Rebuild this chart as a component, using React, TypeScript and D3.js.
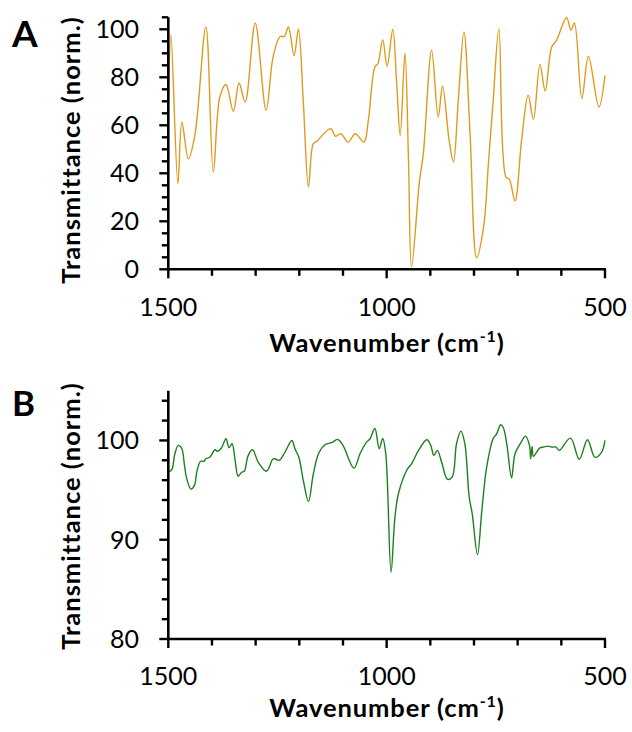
import React from "react";
import * as d3 from "d3";

const width = 632;
const height = 732;

// panel A: FTIR transmittance
const wavenumbersA = [
  1500, 1494, 1478, 1469, 1454, 1439, 1414, 1397, 1382, 1368, 1351, 1338, 1324,
  1301, 1276, 1260, 1244, 1234, 1225, 1212, 1202, 1191, 1179, 1168, 1160, 1146,
  1128, 1117, 1105, 1088, 1072, 1052, 1042, 1027, 1020, 1009, 999, 986, 977, 969,
  958, 950, 943, 925, 916, 897, 882, 872, 857, 847, 836, 823, 809, 794, 778, 767,
  756, 743, 727, 719, 706, 691, 676, 664, 649, 637, 622, 611, 588, 578, 570, 553,
  538, 514, 500
];
const transmittanceA = [
  66, 97.8, 35.7, 61.4, 46, 56, 101, 40.5, 71.8, 77, 65.8, 77.6, 69.7, 102.6,
  66.3, 88.5, 97, 97, 101, 89, 100, 70.4, 34.3, 52.4, 53.3, 56.1, 58.6, 55.4,
  56.5, 53, 56.5, 53, 62, 84.3, 85.7, 95.7, 84.6, 99.9, 77.4, 55.8, 90.1, 45.5,
  1, 36.4, 48.2, 91.3, 63.5, 76.3, 53.8, 44.7, 70.4, 98.9, 56.5, 4.9, 17.7, 44,
  70.5, 100.3, 38.5, 37.5, 28.5, 53.8, 72.5, 62.5, 85.4, 74.3, 92.6, 95.4, 104.9,
  99.6, 102.6, 71.1, 88.8, 67.6, 80.8
];

// panel B
const wavenumbersB = [
  1500, 1492, 1485, 1477, 1469, 1463, 1458, 1448, 1440, 1434, 1426, 1418, 1414,
  1405, 1393, 1388, 1378, 1368, 1361, 1354, 1347, 1340, 1332, 1326, 1317, 1307,
  1294, 1275, 1261, 1256, 1246, 1233, 1217, 1210, 1201, 1191, 1179, 1168, 1156,
  1141, 1126, 1112, 1100, 1075, 1061, 1046, 1038, 1027, 1017, 1009, 1002, 990,
  981, 973, 954, 943, 927, 908, 899, 892, 884, 874, 861, 850, 840, 830, 821, 811,
  804, 792, 782, 771, 756, 748, 739, 733, 725, 714, 706, 694, 682, 673, 670, 667,
  664, 649, 641, 630, 622, 612, 605, 579, 559, 540, 523, 508, 500
];
const transmittanceB = [
  96.8, 97.05, 98.66, 99.5, 99.16, 97.5, 96.2, 95.1, 95.5, 97, 97.9, 97.9, 98.15,
  98.3, 99.06, 98.9, 99.26, 100.17, 99.26, 99.67, 98, 96.4, 96.8, 96.9, 98.5,
  99.06, 97.8, 96.9, 98.1, 98.15, 98, 98.8, 100, 99.16, 98.3, 96, 93.85, 96.6,
  98.66, 99.57, 99.77, 100.1, 99.5, 97.2, 98.66, 99.83, 100.17, 101.2, 99.16,
  100.2, 98.66, 86.73, 92.27, 94.63, 97, 97.65, 99, 100.07, 99.5, 98.5, 99, 97.8,
  96.1, 96.3, 99.67, 100.94, 99.67, 94.3, 92.6, 88.5, 92.95, 97.3, 100.2, 100.67,
  101.58, 101.3, 99.67, 96.24, 98.66, 99.67, 100.43, 99.5, 98.15, 99.4, 98.4,
  99.26, 99.33, 99.43, 99.33, 99.33, 99, 100.23, 98.1, 100.07, 98.3, 98.8, 100
];

const xTickLabels = [1500, 1000, 500];
const yTickLabelsA = [0, 20, 40, 60, 80, 100];
const yTickLabelsB = [80, 90, 100];

const font = "Lato, 'Open Sans', sans-serif";
const x = d3.scaleLinear().domain([1500, 500]).range([168.3, 605]);

function Panel({ letter, letterY, letterSize, wn, vals, color, yDomain, yRange,
  minorStep, labels, titleY, tickLabelDy, xTitleDy }) {
  const y = d3.scaleLinear().domain(yDomain).range(yRange);
  const x0 = x.range()[0];
  const yBottom = yRange[0];
  const line = d3
    .line()
    .x((d) => x(d[0]))
    .y((d) => y(d[1]))
    .curve(d3.curveCatmullRom.alpha(0.5));
  const pts = wn.map((w, i) => [w, vals[i]]);
  const minorY = d3.range(yDomain[0], yDomain[1] + 0.001, minorStep);
  const minorX = d3.range(1500, 499, -100);

  return (
    <g>
      <text x={12} y={letterY} fontFamily={font}
        fontWeight="bold" fontSize={letterSize}>{letter}</text>
      <text transform={`translate(80 ${titleY}) rotate(-90)`} textAnchor="middle"
        fontFamily={font} fontWeight="bold" fontSize={25.5} letterSpacing={1}>
        Transmittance (norm.)
      </text>

      <path d={line(pts)} fill="none" stroke={color} strokeWidth={1.4} />

      {/* y axis */}
      <line x1={x0} x2={x0} y1={yRange[1]} y2={yBottom} stroke="black" strokeWidth={2.6} />
      {minorY.map((v) => {
        const major = labels.includes(v);
        return (
          <line key={"y" + v} x1={x0 - (major ? 9 : 6.5)} x2={x0}
            y1={y(v)} y2={y(v)} stroke="black" strokeWidth={2.4} />
        );
      })}
      {labels.map((v) => (
        <text key={"yl" + v} x={139} y={y(v)} dy="0.36em" textAnchor="end"
          fontFamily={font} fontSize={25}>{v}</text>
      ))}

      {/* x axis */}
      <line x1={x0} x2={x(500) + 1} y1={yBottom} y2={yBottom} stroke="black" strokeWidth={2.6} />
      {minorX.map((w) => {
        const major = xTickLabels.includes(w);
        return (
          <line key={"x" + w} x1={x(w)} x2={x(w)} y1={yBottom}
            y2={yBottom + (major ? 9 : 6.5)} stroke="black" strokeWidth={2.4} />
        );
      })}
      {xTickLabels.map((w) => (
        <text key={"xl" + w} x={x(w)} y={yBottom + tickLabelDy} textAnchor="middle"
          fontFamily={font} fontSize={25}>{w}</text>
      ))}
      <text x={387} y={yBottom + xTitleDy} textAnchor="middle" fontFamily={font}
        fontWeight="bold" fontSize={25.5} letterSpacing={0.9}>
        Wavenumber (cm<tspan fontSize={16} dy={-10}>-1</tspan><tspan dy={10}>)</tspan>
      </text>
    </g>
  );
}

export default function App() {
  return (
    <svg width={width} height={height}
      style={{ position: "absolute", left: 0, top: 0, background: "white" }}>
      <Panel letter="A" letterY={47} letterSize={37} wn={wavenumbersA}
        vals={transmittanceA} color="#E09A1E" yDomain={[0, 105]} yRange={[269.3, 17.3]}
        minorStep={5} labels={yTickLabelsA} titleY={150} tickLabelDy={47} xTitleDy={83} />
      <Panel letter="B" letterY={416} letterSize={35} wn={wavenumbersB}
        vals={transmittanceB} color="#1E7F1E" yDomain={[80, 105]} yRange={[639, 390.8]}
        minorStep={2} labels={yTickLabelsB} titleY={516} tickLabelDy={46} xTitleDy={78} />
    </svg>
  );
}
